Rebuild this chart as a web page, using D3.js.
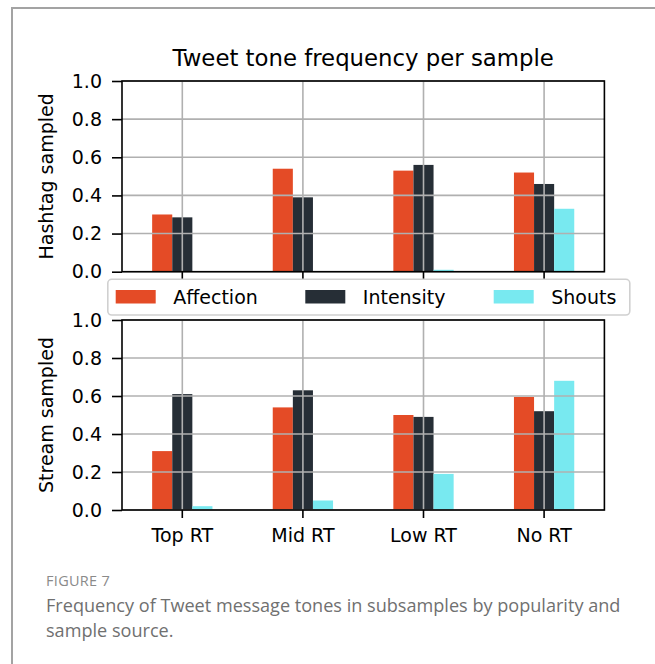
<!DOCTYPE html>
<html>
<head>
<meta charset="utf-8">
<script src="https://cdn.jsdelivr.net/npm/d3@7/dist/d3.min.js"></script>
<style>
  html, body { margin: 0; padding: 0; background: #fff; }
  svg { display: block; }
</style>
</head>
<body>
<svg id="chart" width="655" height="664"></svg>
<script>
// ---------------- data ----------------
const categories = ["Top RT", "Mid RT", "Low RT", "No RT"];
const seriesNames = ["Affection", "Intensity", "Shouts"];
const seriesColors = ["#e44b26", "#262e36", "#78e9f0"];

const hashtagAffection = [0.30, 0.54, 0.53, 0.52];
const hashtagIntensity = [0.285, 0.39, 0.56, 0.46];
const hashtagShouts    = [0.0, 0.0, 0.01, 0.33];

const streamAffection  = [0.31, 0.54, 0.50, 0.595];
const streamIntensity  = [0.61, 0.63, 0.49, 0.52];
const streamShouts     = [0.02, 0.05, 0.19, 0.68];

const yTickValues = [0.0, 0.2, 0.4, 0.6, 0.8, 1.0];
const titleText = "Tweet tone frequency per sample";
const panelLabels = ["Hashtag sampled", "Stream sampled"];
const figureLabel = "FIGURE 7";
const captionLines = [
  "Frequency of Tweet message tones in subsamples by popularity and",
  "sample source."
];

// ---------------- layout ----------------
const svg = d3.select("#chart");
const FONT = "'DejaVu Sans', sans-serif";
const FS = 19;
const left = 122, right = 604.4;

// frame
svg.append("rect")
  .attr("x", 12).attr("y", 8).attr("width", 720).attr("height", 720)
  .attr("fill", "none").attr("stroke", "#a3a3a3").attr("stroke-width", 2);

const x = d3.scaleBand().domain(categories).range([left, right]).padding(0);
const xs = d3.scaleBand().domain(seriesNames)
  .range([x.bandwidth() * 0.25, x.bandwidth() * 0.75]).padding(0);

const panels = [
  { label: panelLabels[0], top: 81, bottom: 271.7, showX: false,
    values: [hashtagAffection, hashtagIntensity, hashtagShouts] },
  { label: panelLabels[1], top: 320, bottom: 510, showX: true,
    values: [streamAffection, streamIntensity, streamShouts] }
];

panels.forEach(p => {
  const y = d3.scaleLinear().domain([0, 1]).range([p.bottom, p.top]);
  const g = svg.append("g");

  // bars
  p.values.forEach((vals, si) => {
    g.append("g").selectAll("rect")
      .data(vals.map((v, i) => ({ cat: categories[i], v })))
      .join("rect")
      .attr("x", d => x(d.cat) + xs(seriesNames[si]))
      .attr("width", xs.bandwidth())
      .attr("y", d => y(d.v))
      .attr("height", d => y(0) - y(d.v))
      .attr("fill", seriesColors[si]);
  });

  // grid (drawn over bars)
  const grid = g.append("g").attr("stroke", "#b0b0b0").attr("stroke-width", 1.6);
  grid.selectAll("line.h").data(yTickValues).join("line")
    .attr("x1", left).attr("x2", right)
    .attr("y1", d => y(d)).attr("y2", d => y(d));
  grid.selectAll("line.v").data(categories).join("line")
    .attr("x1", d => x(d) + x.bandwidth() / 2).attr("x2", d => x(d) + x.bandwidth() / 2)
    .attr("y1", p.top).attr("y2", p.bottom);

  // y axis
  const ya = g.append("g").attr("transform", `translate(${left},0)`)
    .call(d3.axisLeft(y).tickValues(yTickValues).tickFormat(d3.format(".1f"))
      .tickSize(10).tickPadding(10));
  ya.select(".domain").remove();
  ya.selectAll(".tick line").attr("stroke", "#000").attr("stroke-width", 1.6);
  ya.selectAll(".tick text").attr("font-family", FONT).attr("font-size", FS).attr("fill", "#000");

  // x axis
  const xa = g.append("g").attr("transform", `translate(0,${p.bottom})`)
    .call(d3.axisBottom(x).tickSize(8).tickPadding(11));
  xa.select(".domain").remove();
  xa.selectAll(".tick line").attr("stroke", "#000").attr("stroke-width", 1.6);
  xa.selectAll(".tick text").attr("font-family", FONT).attr("font-size", FS).attr("fill", "#000");
  if (!p.showX) xa.selectAll(".tick text").remove();

  // spines
  g.append("rect")
    .attr("x", left).attr("y", p.top).attr("width", right - left).attr("height", p.bottom - p.top)
    .attr("fill", "none").attr("stroke", "#000").attr("stroke-width", 1.6);

  // panel label
  g.append("text")
    .attr("transform", `translate(53,${(p.top + p.bottom) / 2}) rotate(-90)`)
    .attr("text-anchor", "middle")
    .attr("font-family", FONT).attr("font-size", FS).attr("fill", "#000")
    .text(p.label);
});

// title
svg.append("text")
  .attr("x", (left + right) / 2).attr("y", 66)
  .attr("text-anchor", "middle")
  .attr("font-family", FONT).attr("font-size", 22.8).attr("fill", "#000")
  .text(titleText);

// legend
const lg = svg.append("g");
lg.append("rect")
  .attr("x", 107.8).attr("y", 279.3).attr("width", 522).attr("height", 35.7)
  .attr("rx", 4).attr("ry", 4)
  .attr("fill", "#fff").attr("fill-opacity", 0.8)
  .attr("stroke", "#d0d0d0").attr("stroke-width", 1.6);
const legendX = [115.7, 305.3, 493.7];
seriesNames.forEach((s, i) => {
  lg.append("rect")
    .attr("x", legendX[i]).attr("y", 290).attr("width", 40).attr("height", 13.5)
    .attr("fill", seriesColors[i]);
  lg.append("text")
    .attr("x", legendX[i] + 57.5).attr("y", 304)
    .attr("font-family", FONT).attr("font-size", FS).attr("fill", "#000")
    .text(s);
});

// caption
svg.append("text")
  .attr("x", 46).attr("y", 586)
  .attr("font-family", "'Open Sans', sans-serif").attr("font-size", 14.5)
  .attr("letter-spacing", 0.3)
  .attr("fill", "#8a8a8a")
  .text(figureLabel);
captionLines.forEach((t, i) => {
  svg.append("text")
    .attr("x", 46).attr("y", 612 + i * 24.5)
    .attr("font-family", "'Open Sans', sans-serif").attr("font-size", 18.1)
    .attr("fill", "#707070")
    .text(t);
});
</script>
</body>
</html>
